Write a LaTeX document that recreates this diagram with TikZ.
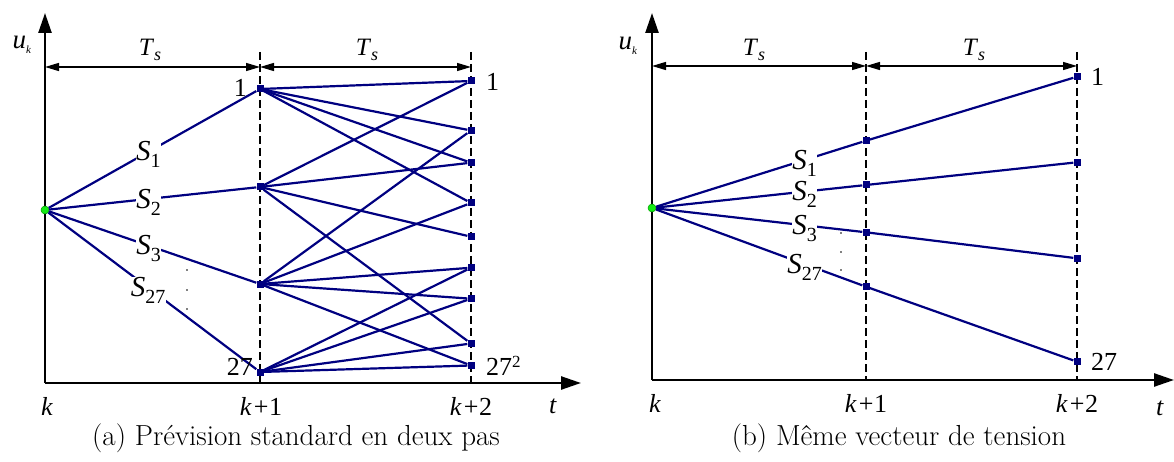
\documentclass[tikz,border=0pt]{standalone}
\usepackage{fontspec}
\newfontfamily\tnr{Liberation Serif}
\usetikzlibrary{arrows.meta}
\definecolor{navy}{RGB}{0,0,128}
\definecolor{dotgreen}{RGB}{20,235,20}
\newcommand{\fsz}[1]{\fontsize{#1}{#1}\selectfont}
\newcommand{\Slab}[1]{{\fsz{29}\textit{S}}\raisebox{-7pt}{\fsz{20}#1}}
\newcommand{\Tslab}{{\fsz{25}\textit{T}}\raisebox{-5pt}{\fsz{18}\textit{s}}}
\newcommand{\uklab}{{\fsz{27}\textit{u}}\raisebox{-5pt}{\fsz{11}\textit{k}}}
\newcommand{\kp}[1]{\textit{k}\hspace{2pt}+\hspace{0.5pt}#1}
\begin{document}
\begin{tikzpicture}[x=1pt,y=-1pt,
  axisline/.style={line width=2.5pt,-{Triangle[length=20pt,width=13pt]}},
  tsarrow/.style={line width=1.3pt,{Triangle[length=14pt,width=8pt]}-{Triangle[length=14pt,width=8pt]}},
  dashline/.style={line width=1.2pt,dash pattern=on 8pt off 4pt},
  bl/.style={line width=2.2pt,navy},
  sq/.style={rectangle,fill=navy,minimum size=7pt,inner sep=0pt},
  startdot/.style={circle,fill=dotgreen,draw=green!60!black,line width=0.5pt,minimum size=8pt,inner sep=0pt},
  slab/.style={fill=white,text=black,inner sep=0.5pt,font=\tnr,yshift=-3pt},
  txt/.style={font=\tnr\fsz{26},inner sep=0pt},
  captext/.style={font=\fsz{29},inner sep=0pt},
  vdot/.style={circle,fill=black,minimum size=1.8pt,inner sep=0pt}]
\useasboundingbox (0,0) rectangle (1174,462);

% ================= panel (a) =================
\coordinate (oa) at (45,383);
\coordinate (xa) at (581,383);
\coordinate (ya) at (45,13);
\coordinate (da1) at (260,52);
\coordinate (da1b) at (260,383);
\coordinate (da2) at (471,52);
\coordinate (da2b) at (471,383);
\coordinate (ta0) at (45,67);
\coordinate (ta1) at (260,67);
\coordinate (ta2) at (471,67);

\draw[dashline] (da1) -- (da1b);
\draw[dashline] (da2) -- (da2b);
\draw[axisline] (oa) -- (xa);
\draw[axisline] (oa) -- (ya);
\draw[tsarrow] (ta0) -- (ta1);
\draw[tsarrow] (ta1) -- (ta2);

\node[txt] (tsa1) at (150,50) {\Tslab};
\node[txt] (tsa2) at (367,50) {\Tslab};
\node[txt] (uka) at (22,45) {\uklab};

\node[startdot] (s0) at (45,210) {};
\node[sq] (a1) at (260,89) {};
\node[sq] (a2) at (260,187) {};
\node[sq] (a3) at (260,284) {};
\node[sq] (a4) at (260,372) {};
\node[sq] (b1) at (471,81) {};
\node[sq] (b2) at (471,130.5) {};
\node[sq] (b3) at (471,162.7) {};
\node[sq] (b4) at (471,203) {};
\node[sq] (b5) at (471,236.7) {};
\node[sq] (b6) at (471,267.7) {};
\node[sq] (b7) at (471,298.7) {};
\node[sq] (b8) at (471,343.5) {};
\node[sq] (b9) at (471,365.5) {};

\draw[bl] (s0) -- node[slab,pos=0.48] {\Slab{1}} (a1);
\draw[bl] (s0) -- node[slab,pos=0.48] {\Slab{2}} (a2);
\draw[bl] (s0) -- node[slab,pos=0.48] {\Slab{3}} (a3);
\draw[bl] (s0) -- node[slab,pos=0.48] {\Slab{27}} (a4);

\foreach \t in {b1,b2,b3,b4} \draw[bl] (a1) -- (\t);
\foreach \t in {b1,b3,b5,b8} \draw[bl] (a2) -- (\t);
\foreach \t in {b2,b4,b6,b7,b9} \draw[bl] (a3) -- (\t);
\foreach \t in {b6,b7,b8,b9} \draw[bl] (a4) -- (\t);

\node[vdot] (pa1) at (187,270) {};
\node[vdot] (pa2) at (187,290) {};
\node[vdot] (pa3) at (187,309) {};

\node[txt,anchor=east] (la1) at (247,88) {1};
\node[txt,anchor=east] (la27) at (253,367) {27};
\node[txt,anchor=west] (lb1) at (486,82) {1};
\node[txt,anchor=west] (lb27) at (486,366) {27\raisebox{8pt}{\fsz{17}2}};

\node[txt] (ka0) at (47,406) {\textit{k}};
\node[txt] (ka1) at (261,406) {\kp{1}};
\node[txt] (ka2) at (471,406) {\kp{2}};
\node[txt] (tta) at (553,406) {\textit{t}};

\node[captext] (capa) at (296,438) {(a) Prévision standard en deux pas};

% ================= panel (b) =================
\coordinate (ob) at (652,380);
\coordinate (xb) at (1174,380);
\coordinate (yb) at (652,13);
\coordinate (db1) at (866,52);
\coordinate (db1b) at (866,380);
\coordinate (db2) at (1077,52);
\coordinate (db2b) at (1077,380);
\coordinate (tb0) at (652,66);
\coordinate (tb1) at (866,66);
\coordinate (tb2) at (1077,66);

\draw[dashline] (db1) -- (db1b);
\draw[dashline] (db2) -- (db2b);
\draw[axisline] (ob) -- (xb);
\draw[axisline] (ob) -- (yb);
\draw[tsarrow] (tb0) -- (tb1);
\draw[tsarrow] (tb1) -- (tb2);

\node[txt] (tsb1) at (754,50) {\Tslab};
\node[txt] (tsb2) at (974,50) {\Tslab};
\node[txt] (ukb) at (628,46) {\uklab};

\node[startdot] (r0) at (652,208) {};
\node[sq] (c1) at (866,140.7) {};
\node[sq] (c2) at (866,185) {};
\node[sq] (c3) at (866,232.3) {};
\node[sq] (c4) at (866,286.7) {};
\node[sq] (d1) at (1077,76.7) {};
\node[sq] (d2) at (1077,162.3) {};
\node[sq] (d3) at (1077,258.3) {};
\node[sq] (d4) at (1077,361.7) {};

\draw[bl] (r0) -- node[slab,pos=0.72] {\Slab{1}} (c1);
\draw[bl] (r0) -- node[slab,pos=0.72] {\Slab{2}} (c2);
\draw[bl] (r0) -- node[slab,pos=0.72] {\Slab{3}} (c3);
\draw[bl] (r0) -- node[slab,pos=0.72] {\Slab{27}} (c4);
\draw[bl] (c1) -- (d1);
\draw[bl] (c2) -- (d2);
\draw[bl] (c3) -- (d3);
\draw[bl] (c4) -- (d4);

\node[vdot] (pb1) at (841,233) {};
\node[vdot] (pb2) at (841,252) {};
\node[vdot] (pb3) at (841,270) {};

\node[txt,anchor=west] (ld1) at (1091,77) {1};
\node[txt,anchor=west] (ld27) at (1091,362) {27};

\node[txt] (kb0) at (655,403) {\textit{k}};
\node[txt] (kb1) at (866,403) {\kp{1}};
\node[txt] (kb2) at (1077,403) {\kp{2}};
\node[txt] (ttb) at (1160,408) {\textit{t}};

\node[captext] (capb) at (899,438) {(b) Même vecteur de tension};
\end{tikzpicture}
\end{document}
